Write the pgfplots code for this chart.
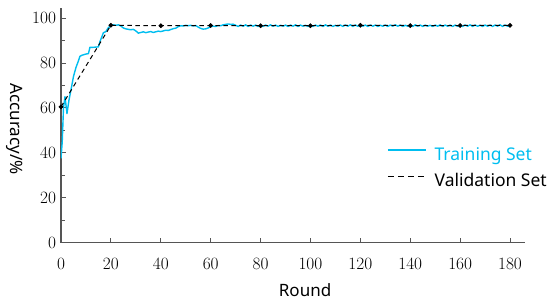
\documentclass[border=0pt]{standalone}
\usepackage{pgfplots}
\pgfplotsset{compat=1.18}
\usepackage{pgfplotstable}
\usepackage{fontspec}
\newfontfamily\lab{Noto Sans}
\definecolor{trc}{RGB}{0,190,240}
\definecolor{axc}{RGB}{85,85,85}

\pgfplotstableread{
x y
0 37.5
0.5 45
1 60
1.6 65
2.4 57.5
3.2 63.5
4 68
5 74
6 78
7 81
7.6 83
8.5 83.5
10 84
11 84.2
11.6 87
13 87
15 87.2
15.6 89.5
16.5 92
17 93.5
18 94
19 95.8
20 96.5
21 97
22 96.8
23 97
24 96.5
25 95.6
26 95.2
27 95
28 94.8
29 95
30 94.3
31 93.3
32 93.6
33 93.9
34 93.5
35 93.8
36 94
37 93.6
38 93.9
39 94.2
40 94
41 94.3
42 94.6
43 94.5
44 94.9
45 95.3
46 95.5
47 96.2
48 96.6
49 96.5
50 96.8
51 96.6
52 96.8
53 96.5
54 96.7
55 96
56 95.4
57 95.1
58 95.2
59 95.6
60 96.2
61 96.4
62 96.3
63 96.7
64 96.6
65 97
66 97.2
67 97.4
68 97.2
69 97.3
70 96.8
71 96.3
72 96.9
73 96.4
74 97.0
75 96.3
76 96.9
77 96.4
78 96.9
79 96.3
80 96.8
81 96.3
82 96.9
83 96.4
84 97.0
85 96.4
86 96.9
87 96.3
88 96.8
89 96.4
90 96.9
91 96.3
92 96.9
93 96.4
94 97.0
95 96.3
96 96.9
97 96.4
98 96.8
99 96.3
100 96.9
101 96.3
102 96.9
103 96.4
104 96.9
105 96.3
106 97.0
107 96.4
108 96.9
109 96.3
110 96.8
111 96.4
112 96.9
113 96.3
114 96.9
115 96.4
116 97.0
117 96.3
118 96.9
119 96.4
120 96.9
121 96.4
122 96.9
123 96.3
124 96.9
125 96.4
126 96.9
127 96.3
128 96.8
129 96.4
130 96.9
131 96.3
132 96.9
133 96.4
134 97.0
135 96.4
136 96.9
137 96.3
138 96.8
139 96.4
140 96.9
141 96.3
142 97.0
143 96.4
144 96.9
145 96.3
146 96.9
147 96.4
148 96.8
149 96.3
150 96.9
151 96.4
152 97.0
153 96.3
154 96.9
155 96.4
156 96.9
157 96.3
158 96.9
159 96.4
160 96.9
161 96.3
162 96.9
163 96.4
164 97.0
165 96.3
166 96.9
167 96.4
168 96.8
169 96.3
170 96.9
171 96.4
172 96.9
173 96.3
174 96.9
175 96.4
176 97.0
177 96.3
178 96.9
179 96.4
180 96.6
}\training

\pgfplotstableread{
x y
0 60.5
20 96.8
40 96.6
60 96.7
80 96.6
100 96.6
120 96.8
140 96.7
160 96.7
180 96.8
}\validation

\begin{document}
\begin{tikzpicture}[x=1pt,y=1pt]
\useasboundingbox (-61,-59.3) rectangle (489,242.7);
\begin{axis}[
  scale only axis, width=464pt, height=234.7pt,
  at={(0,0)}, anchor=south west,
  xmin=0, xmax=186, ymin=0, ymax=104.5,
  axis lines*=left,
  axis line style={axc, line width=1.1pt},
  xtick={0,20,...,180}, ytick={0,20,...,100},
  minor ytick={10,30,...,90},
  tick align=inside, major tick length=5pt, minor tick length=4pt,
  every tick/.style={axc, line width=0.9pt},
  tick label style={font=\fontsize{18.5}{21}\selectfont, black},
  xticklabel style={yshift=-12.5pt},
  yticklabel style={xshift=-1.5pt},
  every axis x label/.style={at={(axis description cs:0.526,-0.2015)}, anchor=center},
  every axis y label/.style={at={(axis description cs:-0.101,0.484)}, rotate=-90, anchor=center},
  label style={font=\lab\fontsize{17}{20}\selectfont},
  xlabel={Round}, ylabel={Accuracy/\%},
  legend style={at={(axis description cs:0.7026,0.314)}, anchor=west, draw=none, fill=none,
    inner sep=0pt, row sep=10.5pt, font=\lab\fontsize{17.5}{20}\selectfont,
    nodes={inner sep=0pt, text height=12pt, text depth=3.5pt},
    /tikz/every odd column/.append style={column sep=8pt}},
  legend cell align=left,
  legend image code/.code={\draw[#1] (0pt,6pt) -- (38pt,6pt);},
]
\addplot[trc, line width=1.4pt, line join=round, forget plot] table[x=x,y=y] {\training};
\addplot[black, line width=1pt, dash pattern=on 4.5pt off 3.5pt, mark=*, mark size=1.8pt, mark options={solid}, forget plot] table[x=x,y=y] {\validation};
\addlegendimage{trc, line width=1.4pt}
\addlegendentry{\textcolor{trc}{Training Set}}
\addlegendimage{black, line width=1pt, dash pattern=on 6pt off 4pt}
\addlegendentry{Validation Set}
\end{axis}
\end{tikzpicture}
\end{document}
